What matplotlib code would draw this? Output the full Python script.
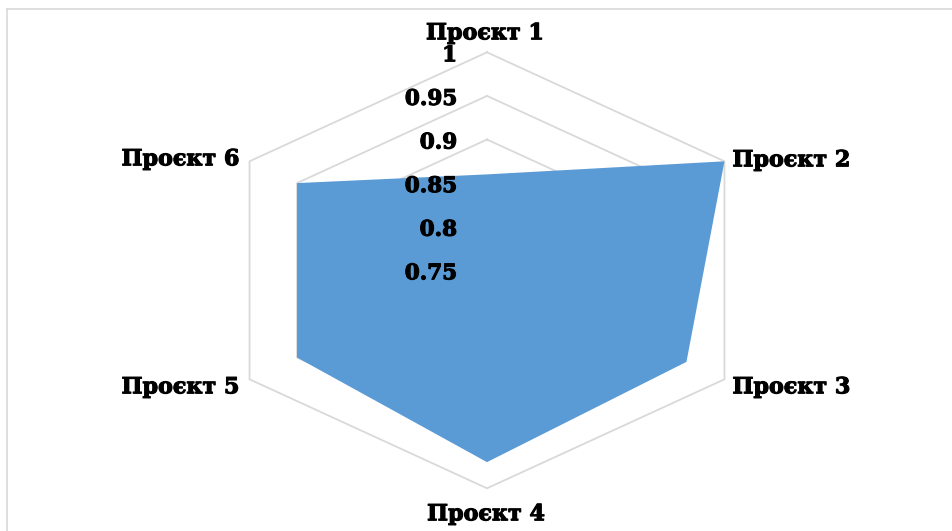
import numpy as np
import matplotlib
matplotlib.use("Agg")
import matplotlib.pyplot as plt
from matplotlib.lines import Line2D
import matplotlib.patheffects as pe

# Data
categories = ["Проєкт 1", "Проєкт 2", "Проєкт 3", "Проєкт 4", "Проєкт 5", "Проєкт 6"]
values = [0.86, 1.00, 0.96, 0.97, 0.95, 0.95]
ticks = [0.75, 0.8, 0.85, 0.9, 0.95, 1.0]
tick_labels = ["0.75", "0.8", "0.85", "0.9", "0.95", "1"]

FILL = "#5B9BD5"
GRID = "#D9D9D9"
FONT = "DejaVu Serif"
HEAVY = [pe.withStroke(linewidth=0.8, foreground="black")]

W, H = 953, 531
fig = plt.figure(figsize=(W / 100, H / 100), dpi=100)

# Stretched radar area (wider than tall)
left, right = 212.8, 761.2
top, bottom = 52.3, 488.3
ax = fig.add_axes([left / W, 1 - bottom / H, (right - left) / W, (bottom - top) / H],
                  projection="polar")
ax.set_aspect("auto")
ax.set_theta_zero_location("N")
ax.set_theta_direction(-1)
ax.set_ylim(ticks[0], ticks[-1])
ax.grid(False)
ax.set_xticks([])
ax.set_yticks([])
ax.spines["polar"].set_visible(False)
ax.patch.set_alpha(0)

n = len(categories)
theta = np.arange(n) * 2 * np.pi / n
theta_closed = np.append(theta, theta[0])

# Hexagonal gridlines
for t in ticks[1:]:
    ax.plot(theta_closed, [t] * (n + 1), color=GRID, lw=1.3, zorder=1, clip_on=False)

# Filled series
vals_closed = values + values[:1]
ax.fill(theta_closed, vals_closed, color=FILL, lw=0, zorder=2)

# Radial tick labels along the top axis
for t, lab in zip(ticks, tick_labels):
    ax.annotate(lab, xy=(0, t), xytext=(-30, -9), textcoords="offset pixels",
                ha="right", va="baseline", fontsize=15.5, fontweight="bold",
                family=FONT, color="black", zorder=5, annotation_clip=False,
                path_effects=HEAVY)

# Category labels around the outside
label_offsets = [
    ((-2, 13), "center"),
    ((8, -5), "left"),
    ((8, -14), "left"),
    ((-1, -32), "center"),
    ((-10, -14), "right"),
    ((-10, -4), "right"),
]
for th, cat, (off, ha) in zip(theta, categories, label_offsets):
    ax.annotate(cat, xy=(th, ticks[-1]), xytext=off, textcoords="offset pixels",
                ha=ha, va="baseline", fontsize=16, fontweight="bold",
                family=FONT, color="black", zorder=5, annotation_clip=False,
                path_effects=HEAVY)

# Chart-area border (top and left edges)
x0, y0 = 7.5 / W, 1 - 8.5 / H
fig.add_artist(Line2D([x0, 1], [y0, y0], transform=fig.transFigure, color=GRID, lw=1.2))
fig.add_artist(Line2D([x0, x0], [0, y0], transform=fig.transFigure, color=GRID, lw=1.2))

fig.savefig("out.png", dpi=100, facecolor="white")
